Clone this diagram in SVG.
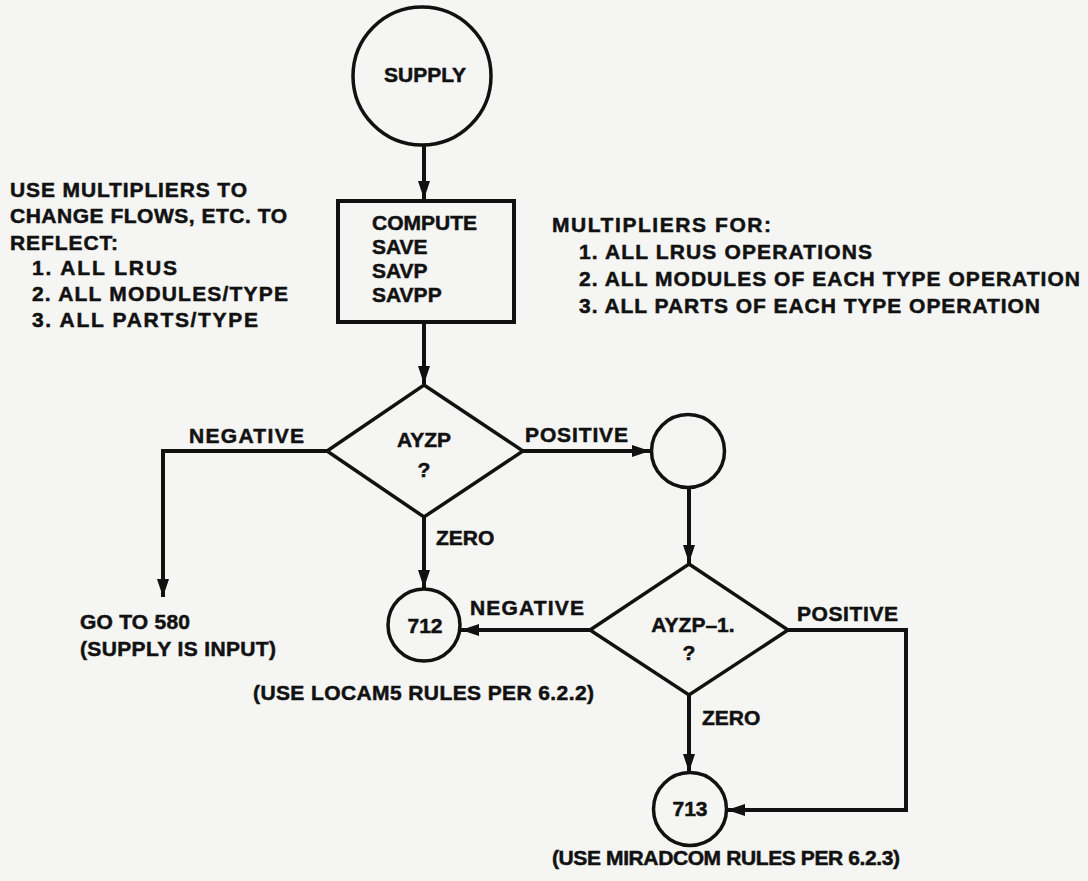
<svg xmlns="http://www.w3.org/2000/svg" width="1088" height="881" viewBox="0 0 1088 881">
<defs>
<style>
.t{font-family:"Liberation Sans",Arial,sans-serif;font-weight:bold;font-size:21px;fill:#111;stroke:#111;stroke-width:0.5}
.c{text-anchor:middle}
.s{fill:none;stroke:#111;stroke-width:3.5}
.e{fill:none;stroke:#111;stroke-width:4;stroke-linejoin:miter}
</style>
<marker id="ah" viewBox="0 0 18 12" markerWidth="18" markerHeight="12" refX="18" refY="6" orient="auto" markerUnits="userSpaceOnUse">
<path d="M0,0 L18,6 L0,12 z" fill="#111"/>
</marker>
</defs>
<rect width="1088" height="881" fill="#f5f5f3"/>

<g id="connectors">
<path class="e" d="M424,145 V199" marker-end="url(#ah)"/>
<path class="e" d="M424,322 V384" marker-end="url(#ah)"/>
<path class="e" d="M327,451 H163 V597" marker-end="url(#ah)"/>
<path class="e" d="M523,451 H650" marker-end="url(#ah)"/>
<path class="e" d="M689,488 V563" marker-end="url(#ah)"/>
<path class="e" d="M424,517 V588" marker-end="url(#ah)"/>
<path class="e" d="M590,630 H461" marker-end="url(#ah)"/>
<path class="e" d="M689,695 V772" marker-end="url(#ah)"/>
<path class="e" d="M788,630 H906 V810 H727" marker-end="url(#ah)"/>
<text class="t" x="189" y="443" textLength="115">NEGATIVE</text>
<text class="t" x="525" y="442" textLength="103">POSITIVE</text>
<text class="t" x="436" y="545">ZERO</text>
<text class="t" x="470" y="615" textLength="114">NEGATIVE</text>
<text class="t" x="797" y="621" textLength="101">POSITIVE</text>
<text class="t" x="702" y="725">ZERO</text>
</g>

<g id="supply">
<circle class="s" cx="422" cy="76" r="69"/>
<text class="t c" x="425" y="82">SUPPLY</text>
</g>

<g id="compute">
<rect class="e" x="338" y="201" width="176" height="121"/>
<text class="t" x="372" y="230">COMPUTE</text>
<text class="t" x="372" y="254">SAVE</text>
<text class="t" x="372" y="278">SAVP</text>
<text class="t" x="372" y="302">SAVPP</text>
</g>

<g id="note-left">
<text class="t" x="10" y="197" textLength="237">USE MULTIPLIERS TO</text>
<text class="t" x="10" y="223" textLength="277">CHANGE FLOWS, ETC. TO</text>
<text class="t" x="10" y="250" textLength="108">REFLECT:</text>
<text class="t" x="32" y="275" textLength="145">1.  ALL LRUS</text>
<text class="t" x="32" y="301" textLength="256">2.  ALL MODULES/TYPE</text>
<text class="t" x="32" y="327" textLength="226">3.  ALL PARTS/TYPE</text>
</g>

<g id="note-right">
<text class="t" x="552" y="232" textLength="219">MULTIPLIERS FOR:</text>
<text class="t" x="579" y="259" textLength="293">1.  ALL LRUS OPERATIONS</text>
<text class="t" x="579" y="286" textLength="501">2.  ALL MODULES OF EACH TYPE OPERATION</text>
<text class="t" x="579" y="313" textLength="461">3.  ALL PARTS OF EACH TYPE OPERATION</text>
</g>

<g id="ayzp">
<polygon class="s" points="424,385 523,451 424,517 327,451"/>
<text class="t c" x="424" y="447">AYZP</text>
<text class="t c" x="424" y="477">?</text>
</g>

<g id="connector-circle">
<circle class="s" cx="688" cy="451" r="36.5"/>
</g>

<g id="goto580">
<text class="t" x="80" y="629" textLength="110">GO TO 580</text>
<text class="t" x="80" y="656" textLength="196">(SUPPLY IS INPUT)</text>
</g>

<g id="ayzp1">
<polygon class="s" points="689,564 788,630 689,695 590,630"/>
<text class="t c" x="693" y="632">AYZP–1.</text>
<text class="t c" x="689" y="660">?</text>
</g>

<g id="n712">
<circle class="s" cx="424" cy="625" r="36"/>
<text class="t c" x="425" y="633">712</text>
<text class="t" x="253" y="700" textLength="341">(USE LOCAM5 RULES PER 6.2.2)</text>
</g>

<g id="n713">
<circle class="s" cx="690" cy="809" r="36.5"/>
<text class="t c" x="690" y="816">713</text>
<text class="t" x="552" y="865" textLength="348">(USE MIRADCOM RULES PER 6.2.3)</text>
</g>
</svg>
